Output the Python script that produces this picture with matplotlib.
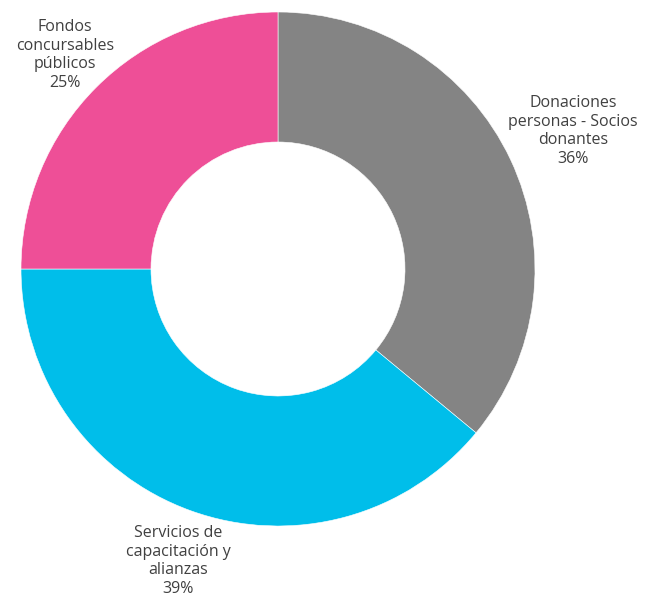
import matplotlib
matplotlib.use("Agg")
import matplotlib.pyplot as plt

categories = ["Donaciones\npersonas - Socios\ndonantes", "Servicios de\ncapacitación y\nalianzas", "Fondos\nconcursables\npúblicos"]
values = [36, 39, 25]
colors = ["#848484", "#00BEEA", "#EE4F97"]

W, H = 646, 597
fig = plt.figure(figsize=(W / 100, H / 100), dpi=100)
ax = fig.add_axes([0, 0, 1, 1])

cx, cy, R = 278, 269, 257
# y axis is inverted (pixel coords), so startangle=-90 is the top and
# counterclock=True runs clockwise on screen
wedges, _ = ax.pie(values, colors=colors, startangle=-90, counterclock=True,
                   center=(cx, cy), radius=R, frame=True,
                   wedgeprops=dict(width=R - 127, edgecolor="white", linewidth=0.4))
ax.set_xlim(0, W)
ax.set_ylim(H, 0)
ax.set_aspect("equal")
ax.axis("off")

label_pos = [(573, 131), (178, 561), (65, 55)]
for (x, y), cat, v in zip(label_pos, categories, values):
    ax.text(x, y, f"{cat}\n{v}%", ha="center", va="center", fontsize=11.5,
            color="#404040", family="Open Sans", linespacing=1.2)

fig.savefig("out.png", dpi=100)
